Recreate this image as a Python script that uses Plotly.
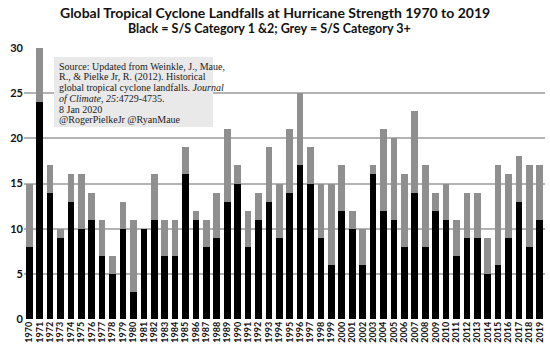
import plotly.graph_objects as go

years = list(range(1970, 2020))
cat12 = [8, 24, 14, 9, 13, 10, 11, 7, 5, 10,
         3, 10, 11, 7, 7, 16, 11, 8, 9, 13,
         15, 8, 11, 13, 9, 14, 17, 15, 9, 6,
         12, 10, 6, 16, 12, 11, 8, 14, 8, 12,
         11, 7, 9, 9, 5, 6, 9, 13, 8, 11]
total = [15, 30, 17, 10, 16, 16, 14, 11, 7, 13,
         11, 10, 16, 11, 11, 19, 12, 11, 14, 21,
         17, 12, 14, 19, 15, 21, 25, 19, 15, 15,
         17, 12, 10, 17, 21, 20, 16, 23, 17, 14,
         15, 11, 14, 14, 9, 17, 16, 18, 17, 17]
cat3 = [t - b for t, b in zip(total, cat12)]
ytickvals = [0, 5, 10, 15, 20, 25, 30]
year_labels = [str(y) for y in years]

fig = go.Figure()
fig.add_trace(go.Bar(x=year_labels, y=cat12, marker_color="#000000",
                     marker_line_width=0, name="S/S Category 1 & 2"))
fig.add_trace(go.Bar(x=year_labels, y=cat3, marker_color="#8f8f8f",
                     marker_line_width=0, name="S/S Category 3+"))

fig.update_layout(
    barmode="stack",
    bargap=0.36,
    width=550, height=349,
    margin=dict(l=24, r=5, t=48, b=30),
    paper_bgcolor="white", plot_bgcolor="white",
    showlegend=False,
    font=dict(family="Lato", color="#111111"),
)
fig.update_xaxes(type="category", tickangle=-90, showgrid=False, showline=False,
                 tickmode="array", tickvals=year_labels, ticktext=year_labels,
                 ticks="", tickfont=dict(family="Lato", size=9, color="#111111", weight="bold"))
fig.update_yaxes(range=[0, 30], tickvals=ytickvals, showgrid=True, gridcolor="#b4b4b4",
                 gridwidth=1.5, zeroline=False, showline=False, ticks="",
                 tickfont=dict(family="Lato", size=11, color="#111111", weight="bold"))

fig.add_annotation(text="<b>Global Tropical Cyclone Landfalls at Hurricane Strength 1970 to 2019</b>",
                   xref="paper", yref="paper", x=(275 - 24) / 521, y=1, yshift=36,
                   xanchor="center", yanchor="middle", showarrow=False,
                   font=dict(family="Lato", size=14, color="#111111"))
fig.add_annotation(text="<b>Black = S/S Category 1 &2; Grey = S/S Category 3+</b>",
                   xref="paper", yref="paper", x=(269 - 24) / 521, y=1, yshift=20,
                   xanchor="center", yanchor="middle", showarrow=False,
                   font=dict(family="Lato", size=12.5, color="#111111"))

# source box
fig.add_shape(type="rect", xref="paper", yref="paper",
              x0=(54 - 24) / 521, x1=(213 - 24) / 521,
              y0=(319 - 127) / 271, y1=(319 - 57) / 271,
              fillcolor="#e9e9e9", line_width=0, layer="above")
src_lines = ["Source: Updated from Weinkle, J., Maue,",
             "R., &amp; Pielke Jr, R. (2012). Historical",
             "global tropical cyclone landfalls. <i>Journal</i>",
             "<i>of Climate</i>, <i>25</i>:4729-4735.",
             "8 Jan 2020",
             "@RogerPielkeJr @RyanMaue"]
for i, line in enumerate(src_lines):
    ypix = 66 + i * 10.8
    fig.add_annotation(text=line, xref="paper", yref="paper",
                       x=(57 - 24) / 521, y=(319 - ypix) / 271,
                       xanchor="left", yanchor="middle", align="left", showarrow=False,
                       font=dict(family="Liberation Serif", size=10, color="#222222"))

fig.write_html("out.html")
